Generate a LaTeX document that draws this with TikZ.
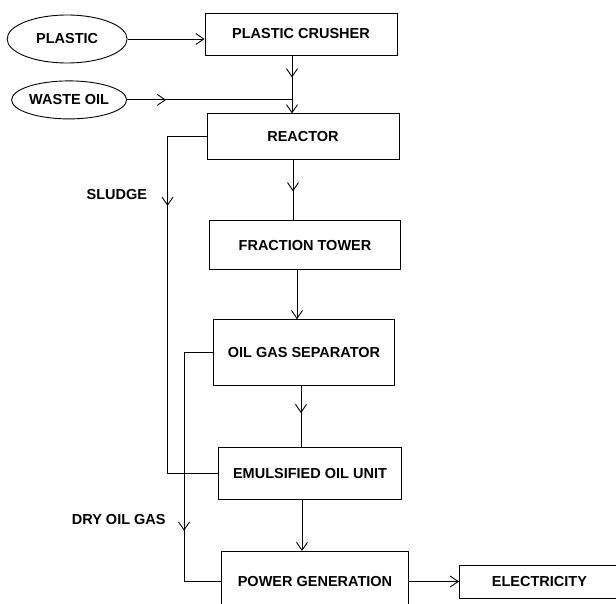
\documentclass[tikz,border=0pt]{standalone}
\usepackage{fontspec}
\setmainfont{Liberation Sans}
\usetikzlibrary{arrows.meta,positioning,shapes.geometric,decorations.markings}

\begin{document}
\begin{tikzpicture}[
        x=1pt, y=-1pt,
        box/.style={
            draw,
            line width=0.9pt,
            align=center,
            inner sep=0pt,
            font=\bfseries\fontsize{14.5}{17}\selectfont
        },
        oval/.style={
            draw,
            ellipse,
            line width=0.9pt,
            inner sep=0pt,
            font=\bfseries\fontsize{14.5}{17}\selectfont
        },
        lbl/.style={
            inner sep=0pt,
            font=\bfseries\fontsize{14.5}{17}\selectfont
        },
        line/.style={line width=0.9pt},
        flow/.style={-{Straight Barb[length=8pt,width=11pt]},line width=0.9pt},
        midarrow/.style={
            postaction={decorate},
            decoration={markings,
                mark=at position #1 with {\arrow{Straight Barb[length=8pt,width=11pt]}}}
        }
    ]

        \useasboundingbox (0,0) rectangle (616,604);
        \clip (0,0) rectangle (616,604);

        \node[box, minimum width=192pt, minimum height=42pt]
            (crusher) at (301,34) {PLASTIC CRUSHER};
        \node[oval, minimum width=120pt, minimum height=48pt,
            left=77pt of crusher, yshift=-5pt] (plastic) {PLASTIC};
        \node[oval, minimum width=115pt, minimum height=38pt,
            below=17pt of plastic, xshift=2pt] (waste) {WASTE OIL};

        \node[box, minimum width=192pt, minimum height=46pt,
            below=58pt of crusher, xshift=2pt] (reactor) {REACTOR};
        \node[box, minimum width=191pt, minimum height=49pt,
            below=60pt of reactor, xshift=2pt] (fraction) {FRACTION TOWER};
        \node[box, minimum width=181pt, minimum height=66pt,
            below=49pt of fraction, xshift=-1pt] (separator) {OIL GAS SEPARATOR};
        \node[box, minimum width=183pt, minimum height=52pt,
            below=61pt of separator, xshift=6pt] (emulsified) {EMULSIFIED OIL UNIT};
        \node[box, minimum width=187pt, minimum height=60pt,
            below=51pt of emulsified, xshift=5pt] (power) {POWER GENERATION};
        \node[box, minimum width=160pt, minimum height=33pt,
            right=50pt of power] (electricity) {ELECTRICITY};

        % waste oil joins the crusher line above the reactor
        \coordinate (crushout) at ([xshift=-9pt]crusher.south);
        \coordinate (join) at (crushout |- waste.east);

        \draw[flow] (plastic.east) -- (plastic.east -| crusher.west);
        \draw[line, midarrow=22pt] (crushout) -- (join);
        \draw[line, midarrow=39pt] (waste.east) -- (join);
        \draw[flow] (join) -- (join |- reactor.north);

        \draw[line, midarrow=31pt]
            ([xshift=-10pt]reactor.south) -- ([xshift=-12pt]fraction.north);
        \draw[flow]
            ([xshift=-8pt]fraction.south) -- ([xshift=-7pt]separator.north);
        \draw[line, midarrow=27pt]
            ([xshift=-3pt]separator.south) -- ([xshift=-9pt]emulsified.north);
        \draw[flow]
            ([xshift=-8pt]emulsified.south) -- ([xshift=-13pt]power.north);
        \draw[flow] (power.east) -- (electricity.west);

        % side streams
        \draw[line, midarrow=108pt] (reactor.west) -- ++(-39,0)
            |- node[lbl, pos=0.085, left=20pt] (sludge) {SLUDGE} (emulsified.west);
        \draw[line, midarrow=207pt] (separator.west) -- ++(-29,0)
            |- node[lbl, pos=0.365, left=18pt] (dryoil) {DRY OIL GAS} (power.west);

    \end{tikzpicture}
\end{document}
